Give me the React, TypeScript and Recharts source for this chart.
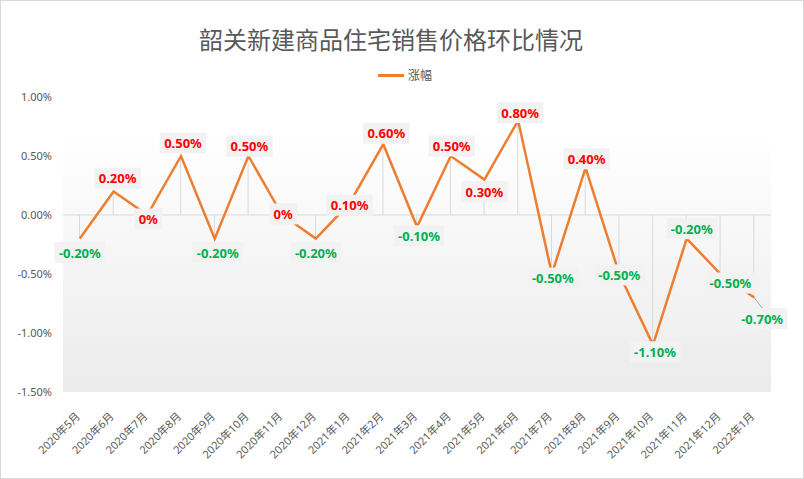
import { Bar, ComposedChart, LabelList, Line, ReferenceArea, ReferenceLine, XAxis, YAxis } from "recharts";

const MONTHS = [
  "2020年5月", "2020年6月", "2020年7月", "2020年8月", "2020年9月", "2020年10月", "2020年11月",
  "2020年12月", "2021年1月", "2021年2月", "2021年3月", "2021年4月", "2021年5月", "2021年6月",
  "2021年7月", "2021年8月", "2021年9月", "2021年10月", "2021年11月", "2021年12月", "2022年1月",
];
const CHANGE_PCT = [
  -0.2, 0.2, 0, 0.5, -0.2, 0.5, 0, -0.2, 0.1, 0.6, -0.1, 0.5, 0.3, 0.8, -0.5, 0.4, -0.5, -1.1, -0.2,
  -0.5, -0.7,
];
const Y_TICKS = [-1.5, -1, -0.5, 0, 0.5, 1];

// labels were hand placed in the original, so nudge each one (dx, dy from the point)
const LABEL_NUDGE: [number, number][] = [
  [0, 14], [4, -13], [1, 4], [2, -13], [3, 14], [1, -10], [1, -1], [0, 14], [0, 2], [3, -11],
  [2, 9], [1, -10], [0, 12], [2, -8], [1, 4], [1, -9], [0, 1], [2, 7], [5, -10], [10, 9], [8, 21],
];

const FONT = '"Noto Sans", "Noto Sans CJK SC", sans-serif';
const GREY = "#595959";
const ORANGE = "#ed7d31";

const rows = MONTHS.map((m, i) => ({ month: m, value: CHANGE_PCT[i] }));

const fmt = (v: number) => (v === 0 ? "0%" : `${v.toFixed(2)}%`);

// rough width of bold 13px Noto Sans
function textWidth(s: string) {
  let w = 0;
  for (const c of s) {
    if (c === "%") w += 11.3;
    else if (c === ".") w += 3.8;
    else if (c === "-") w += 4.4;
    else w += 7.4;
  }
  return w;
}

function DataLabel(props: any) {
  const { x, y, index, value } = props;
  if (x == null || y == null) return null;
  const [dx, dy] = LABEL_NUDGE[index] ?? [0, 0];
  const txt = fmt(value);
  const w = textWidth(txt) + 9;
  const h = 21;
  const cx = x + dx;
  const cy = y + dy;
  const color = value < 0 ? "#00b050" : "#ff0000";
  const leader = index === CHANGE_PCT.length - 1;
  return (
    <g>
      {leader && <line x1={x} y1={y} x2={cx} y2={cy - h / 2} stroke="#a6a6a6" strokeWidth={1} />}
      <rect x={cx - w / 2} y={cy - h / 2} width={w} height={h} fill="#f2f2f2" />
      <text
        x={cx}
        y={cy}
        textAnchor="middle"
        dominantBaseline="central"
        fill={color}
        fontSize={13}
        fontWeight={700}
        fontFamily={FONT}
      >
        {txt}
      </text>
    </g>
  );
}

function MonthTick(props: any) {
  const { x, y, payload } = props;
  const ex = x + 1;
  const ey = y + 17;
  return (
    <text
      x={ex}
      y={ey}
      textAnchor="end"
      fill={GREY}
      fontSize={11}
      fontFamily={FONT}
      transform={`rotate(-45, ${ex}, ${ey})`}
    >
      {payload.value}
    </text>
  );
}

export default function App() {
  return (
    <div style={{ position: "absolute", left: 0, top: 0, width: 804, height: 479, background: "#fff", fontFamily: FONT }}>
      <div
        style={{
          position: "absolute",
          left: 0,
          top: 24,
          width: 782,
          textAlign: "center",
          fontSize: 24,
          color: GREY,
          lineHeight: "32px",
        }}
      >
        韶关新建商品住宅销售价格环比情况
      </div>
      <div
        style={{
          position: "absolute",
          left: 378,
          top: 66,
          display: "flex",
          alignItems: "center",
          gap: 4,
          fontSize: 12,
          color: GREY,
        }}
      >
        <span style={{ display: "inline-block", width: 26, height: 3, background: ORANGE }} />
        <span>涨幅</span>
      </div>
      <div style={{ position: "absolute", left: 0, top: 0 }}>
        <ComposedChart width={804} height={479} data={rows} margin={{ top: 97, right: 33, bottom: 0, left: 8 }}>
          <defs>
            <linearGradient id="plotBg" x1="0" y1="0" x2="0" y2="1">
              <stop offset="0%" stopColor="#ffffff" />
              <stop offset="12%" stopColor="#ffffff" />
              <stop offset="100%" stopColor="#ebebeb" />
            </linearGradient>
          </defs>
          <ReferenceArea y1={-1.5} y2={1} fill="url(#plotBg)" fillOpacity={1} stroke="none" ifOverflow="visible" />
          <XAxis
            dataKey="month"
            axisLine={false}
            tickLine={false}
            height={87}
            interval={0}
            tick={<MonthTick />}
          />
          <YAxis
            domain={[-1.5, 1]}
            ticks={Y_TICKS}
            tickFormatter={(v: number) => `${v.toFixed(2)}%`}
            axisLine={false}
            tickLine={false}
            tickSize={0}
            tickMargin={11}
            width={55}
            tick={{ fill: GREY, fontSize: 11, fontFamily: FONT }}
          />
          <ReferenceLine y={0} stroke="#d9d9d9" strokeWidth={1} />
          <Bar dataKey="value" barSize={1} fill="#d9d9d9" isAnimationActive={false} />
          <Line
            type="linear"
            dataKey="value"
            stroke={ORANGE}
            strokeWidth={2.5}
            dot={false}
            activeDot={false}
            isAnimationActive={false}
          >
            <LabelList dataKey="value" content={<DataLabel />} />
          </Line>
        </ComposedChart>
      </div>
      <div
        style={{
          position: "absolute",
          left: 0,
          top: 0,
          width: 804,
          height: 479,
          boxSizing: "border-box",
          border: "1px solid #d9d9d9",
          pointerEvents: "none",
        }}
      />
    </div>
  );
}
